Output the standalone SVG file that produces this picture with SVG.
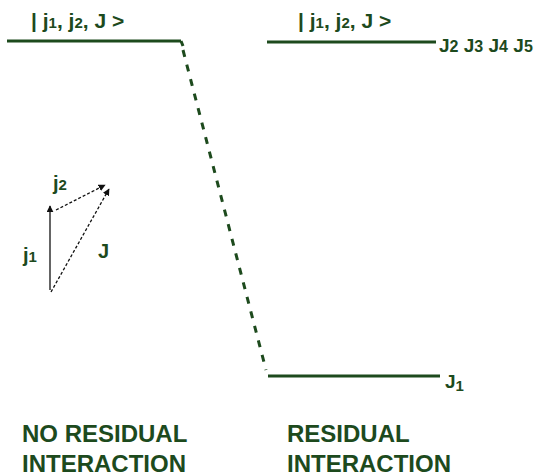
<svg xmlns="http://www.w3.org/2000/svg" width="544" height="476" viewBox="0 0 544 476">
<defs>
<style>
.t{font-family:"Liberation Sans",Arial,sans-serif;font-weight:bold;fill:#1d4a1d}
.lvl{stroke:#1d4a1d;stroke-width:3;fill:none}
.vec{stroke:#111;stroke-width:1.3;fill:none}
</style>
<marker id="ah" viewBox="0 0 10 10" refX="9" refY="5" markerWidth="7" markerHeight="7" orient="auto" markerUnits="userSpaceOnUse"><path d="M0,0 L10,5 L0,10 z" fill="#111"/></marker>
</defs>
<rect width="544" height="476" fill="#fff"/>
<g id="left-level">
<line class="lvl" x1="7" y1="41" x2="181" y2="41"/>
<text class="t" x="31" y="28" font-size="21">|  j<tspan font-size="15">1</tspan>, j<tspan font-size="15">2</tspan>,  J  &gt;</text>
</g>
<g id="right-top-level">
<line class="lvl" x1="267" y1="42" x2="436" y2="42"/>
<text class="t" x="298" y="28" font-size="21">|  j<tspan font-size="15">1</tspan>, j<tspan font-size="15">2</tspan>,  J  &gt;</text>
<text class="t" x="439" y="52" font-size="19">J<tspan font-size="16">2</tspan> J<tspan font-size="16">3</tspan> J<tspan font-size="16">4</tspan> J<tspan font-size="16">5</tspan></text>
</g>
<g id="right-bottom-level">
<line class="lvl" x1="268" y1="376" x2="440" y2="376"/>
<text class="t" x="445" y="388" font-size="19">J<tspan font-size="15" dy="3">1</tspan></text>
</g>
<g id="connectors">
<path class="lvl" d="M181,41 L183,46" />
<line class="lvl" x1="183" y1="50" x2="266" y2="370" stroke-dasharray="7,8"/>
</g>
<g id="vector-diagram">
<line class="vec" x1="50" y1="290" x2="50" y2="206" marker-end="url(#ah)"/>
<line class="vec" x1="56" y1="210" x2="105" y2="185" stroke-dasharray="3,2" marker-end="url(#ah)"/>
<line class="vec" x1="51" y1="292" x2="109" y2="189" stroke-dasharray="3,2" marker-end="url(#ah)"/>
<text class="t" x="53" y="190" font-size="20">j<tspan font-size="15">2</tspan></text>
<text class="t" x="23" y="262" font-size="20">j<tspan font-size="15">1</tspan></text>
<text class="t" x="98" y="258" font-size="20">J</text>
</g>
<g id="captions">
<text class="t" x="22" y="442" font-size="24">NO RESIDUAL</text>
<text class="t" x="22" y="472" font-size="24">INTERACTION</text>
<text class="t" x="287" y="442" font-size="24">RESIDUAL</text>
<text class="t" x="287" y="472" font-size="24">INTERACTION</text>
</g>
</svg>
